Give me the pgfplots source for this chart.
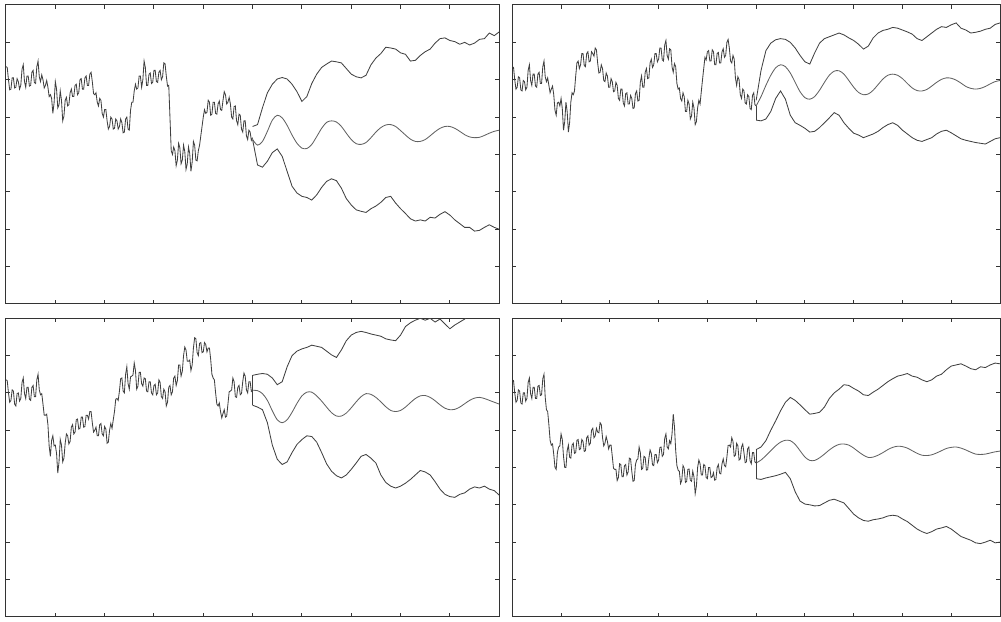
\documentclass[border=0pt]{standalone}
\usepackage{pgfplots}
\pgfplotsset{compat=1.18}
\pgfplotsset{
  panel/.style={
    scale only axis, anchor=south west,
    xmin=0, xmax=10, ymin=0, ymax=8,
    xtick={1,2,3,4,5,6,7,8,9}, ytick={1,2,3,4,5,6,7},
    xticklabels={}, yticklabels={},
    xtick pos=both, ytick pos=both,
    tick align=inside, major tick length=2pt,
    axis line style={black!80, line width=0.5pt},
    every tick/.style={black!80, line width=0.5pt},
    no markers,
  },
  hist/.style={black!75, line width=0.42pt},
  band/.style={black!75, line width=0.42pt},
  mid/.style={black!62, line width=0.42pt, smooth},
  table/H/.style={row sep=\\, header=false, x expr=\coordindex*0.025, y index=0},
  table/F/.style={row sep=\\, header=false, x expr=5+\coordindex*0.1, y index=0},
}
\begin{document}
\begin{tikzpicture}[x=1pt,y=1pt]
\path[use as bounding box] (0,0) rectangle (500.5,310.5);
% ---------------- top left
\begin{axis}[panel, at={(3pt,158.5pt)}, width=246.6pt, height=149.5pt]
\addplot[hist] table[H] {6.35\\6.33\\6.00\\5.73\\5.75\\6.05\\6.05\\5.78\\5.80\\6.03\\5.95\\5.75\\5.85\\6.28\\6.40\\5.95\\5.80\\6.10\\6.10\\5.83\\5.85\\6.20\\6.25\\5.93\\5.90\\6.35\\6.50\\6.08\\5.95\\6.13\\6.00\\5.78\\5.85\\5.98\\5.80\\5.55\\5.60\\5.50\\5.10\\5.38\\5.95\\5.75\\5.25\\5.33\\5.70\\5.45\\4.90\\5.03\\5.45\\5.53\\5.30\\5.33\\5.65\\5.75\\5.55\\5.55\\5.85\\5.88\\5.60\\5.65\\6.00\\6.03\\5.75\\5.75\\6.05\\6.10\\5.85\\5.85\\6.15\\6.20\\5.95\\5.63\\5.60\\5.65\\5.40\\5.30\\5.50\\5.45\\5.10\\5.00\\5.20\\5.20\\4.90\\4.68\\4.75\\5.00\\4.95\\4.68\\4.70\\4.95\\4.90\\4.68\\4.75\\4.95\\4.85\\4.58\\4.60\\4.95\\5.00\\4.68\\4.65\\5.18\\5.40\\5.40\\5.70\\5.88\\5.75\\5.78\\6.10\\6.10\\5.80\\6.00\\6.50\\6.33\\5.85\\5.85\\6.15\\6.18\\5.90\\5.93\\6.25\\6.25\\5.95\\5.93\\6.20\\6.25\\6.00\\6.08\\6.45\\6.43\\6.10\\5.83\\5.85\\4.98\\4.10\\4.00\\4.20\\4.10\\3.70\\3.85\\4.30\\4.18\\3.75\\3.85\\4.25\\4.08\\3.60\\3.75\\4.20\\4.03\\3.55\\3.80\\4.35\\4.25\\3.85\\3.83\\4.10\\4.25\\4.50\\4.75\\5.00\\5.20\\5.10\\5.13\\5.45\\5.40\\5.05\\5.08\\5.40\\5.40\\5.10\\5.08\\5.35\\5.43\\5.20\\5.18\\5.45\\5.68\\5.60\\5.35\\5.40\\5.53\\5.35\\5.00\\4.95\\5.28\\5.30\\4.90\\4.80\\5.08\\5.05\\4.68\\4.60\\4.90\\4.90\\4.50\\4.40\\4.65\\4.60\\4.38\\4.45\\};
\addplot[mid] table[F] {4.40\\4.25\\4.35\\4.62\\4.92\\5.05\\4.98\\4.78\\4.52\\4.30\\4.17\\4.16\\4.27\\4.48\\4.70\\4.86\\4.90\\4.87\\4.75\\4.57\\4.40\\4.29\\4.27\\4.32\\4.45\\4.60\\4.72\\4.79\\4.80\\4.75\\4.64\\4.52\\4.41\\4.35\\4.35\\4.40\\4.50\\4.61\\4.70\\4.75\\4.75\\4.70\\4.62\\4.53\\4.47\\4.45\\4.46\\4.51\\4.57\\4.62\\4.65\\};
\addplot[band] table[F] {4.75\\4.80\\5.25\\5.65\\5.88\\6.02\\6.06\\6.02\\5.88\\5.68\\5.42\\5.55\\5.90\\6.15\\6.33\\6.42\\6.50\\6.48\\6.45\\6.30\\6.15\\6.08\\6.05\\6.12\\6.40\\6.58\\6.70\\6.87\\6.85\\6.82\\6.72\\6.68\\6.50\\6.52\\6.65\\6.75\\6.82\\6.98\\7.10\\7.12\\7.05\\7.02\\6.95\\7.00\\6.93\\6.98\\7.08\\7.10\\7.25\\7.18\\7.28\\};
\addplot[band] table[F] {4.40\\3.72\\3.66\\3.82\\4.05\\4.15\\3.95\\3.55\\3.15\\2.97\\2.88\\2.85\\2.78\\2.92\\3.12\\3.28\\3.35\\3.30\\3.10\\2.82\\2.65\\2.52\\2.48\\2.45\\2.55\\2.62\\2.72\\2.85\\2.88\\2.70\\2.55\\2.42\\2.28\\2.22\\2.25\\2.22\\2.32\\2.30\\2.40\\2.47\\2.38\\2.25\\2.15\\2.05\\2.05\\1.95\\1.97\\2.05\\2.12\\2.05\\2.00\\};
\end{axis}
% ---------------- top right
\begin{axis}[panel, at={(256.15pt,158.5pt)}, width=243.85pt, height=149.5pt]
\addplot[hist] table[H] {6.35\\6.33\\6.00\\5.75\\5.80\\6.08\\6.05\\5.73\\5.70\\5.98\\5.95\\5.73\\5.80\\6.25\\6.40\\5.98\\5.85\\6.15\\6.15\\5.83\\5.80\\6.15\\6.20\\5.90\\5.90\\6.35\\6.50\\6.08\\5.95\\6.05\\5.85\\5.65\\5.75\\5.83\\5.60\\5.18\\5.05\\5.38\\5.40\\5.30\\5.50\\5.23\\4.65\\4.88\\5.40\\5.15\\4.60\\4.85\\5.40\\5.65\\5.60\\5.70\\6.10\\6.45\\6.50\\6.30\\6.40\\6.70\\6.70\\6.38\\6.35\\6.70\\6.75\\6.48\\6.50\\6.75\\6.70\\6.63\\6.85\\6.80\\6.45\\6.18\\6.20\\6.40\\6.30\\5.98\\5.95\\6.18\\6.10\\5.80\\5.80\\6.03\\5.95\\5.68\\5.70\\5.93\\5.85\\5.50\\5.45\\5.75\\5.75\\5.38\\5.30\\5.63\\5.65\\5.35\\5.35\\5.58\\5.50\\5.23\\5.25\\5.63\\5.70\\5.43\\5.45\\5.93\\6.10\\5.80\\5.80\\6.20\\6.30\\6.03\\6.05\\6.45\\6.55\\6.33\\6.40\\6.70\\6.70\\6.48\\6.55\\6.85\\6.85\\6.53\\6.50\\6.93\\7.05\\6.65\\6.55\\6.83\\6.80\\6.35\\6.20\\6.43\\6.35\\5.90\\5.75\\5.78\\5.50\\5.43\\5.65\\5.55\\5.15\\5.15\\5.45\\5.35\\4.95\\5.03\\5.40\\5.25\\4.80\\4.88\\5.25\\5.45\\5.35\\5.68\\6.00\\6.30\\6.60\\6.53\\6.75\\6.78\\6.50\\6.50\\6.80\\6.75\\6.40\\6.40\\6.70\\6.73\\6.45\\6.45\\6.75\\6.83\\6.60\\6.65\\7.00\\7.08\\6.85\\6.50\\6.45\\6.65\\6.55\\6.05\\5.85\\6.08\\6.00\\5.60\\5.50\\5.75\\5.70\\5.38\\5.35\\5.60\\5.55\\5.23\\5.20\\5.58\\5.65\\5.33\\5.30\\};
\addplot[mid] table[F] {5.30\\5.55\\5.85\\6.12\\6.32\\6.40\\6.35\\6.18\\5.93\\5.68\\5.52\\5.48\\5.55\\5.72\\5.93\\6.12\\6.23\\6.24\\6.15\\5.98\\5.80\\5.66\\5.60\\5.62\\5.72\\5.87\\6.02\\6.12\\6.15\\6.12\\6.03\\5.90\\5.78\\5.71\\5.70\\5.74\\5.83\\5.93\\6.01\\6.05\\6.04\\5.99\\5.91\\5.82\\5.77\\5.75\\5.77\\5.82\\5.89\\5.95\\5.98\\};
\addplot[band] table[F] {5.45\\6.25\\6.78\\6.98\\7.07\\7.10\\7.08\\7.00\\6.85\\6.65\\6.48\\6.42\\6.72\\6.98\\7.10\\7.15\\7.20\\7.25\\7.20\\7.12\\7.05\\6.95\\6.82\\6.90\\7.12\\7.25\\7.32\\7.35\\7.40\\7.38\\7.33\\7.28\\7.22\\7.10\\7.05\\7.15\\7.25\\7.35\\7.42\\7.40\\7.47\\7.52\\7.38\\7.33\\7.25\\7.27\\7.30\\7.35\\7.38\\7.48\\7.52\\};
\addplot[band] coordinates {(5,5.30)(5,4.92)};
\addplot[band] table[F] {4.92\\4.90\\4.95\\5.15\\5.50\\5.70\\5.48\\5.05\\4.85\\4.78\\4.70\\4.60\\4.62\\4.72\\4.85\\4.98\\5.12\\5.05\\4.85\\4.70\\4.57\\4.52\\4.45\\4.50\\4.55\\4.62\\4.72\\4.80\\4.85\\4.78\\4.65\\4.55\\4.45\\4.38\\4.35\\4.40\\4.45\\4.55\\4.62\\4.65\\4.58\\4.50\\4.42\\4.38\\4.35\\4.32\\4.30\\4.28\\4.35\\4.42\\4.45\\};
\end{axis}
% ---------------- bottom left
\begin{axis}[panel, at={(3pt,2.15pt)}, width=246.6pt, height=149.2pt]
\addplot[hist] table[H] {6.35\\6.33\\6.00\\5.75\\5.80\\6.08\\6.05\\5.70\\5.65\\5.98\\6.00\\5.78\\5.85\\6.28\\6.40\\5.98\\5.85\\6.15\\6.15\\5.83\\5.80\\6.15\\6.20\\5.90\\5.90\\6.35\\6.50\\6.08\\5.95\\5.98\\5.70\\5.40\\5.40\\5.43\\5.15\\4.58\\4.30\\4.73\\4.85\\4.58\\4.60\\4.38\\3.85\\4.15\\4.75\\4.60\\4.15\\4.25\\4.65\\4.90\\4.85\\4.63\\4.70\\5.08\\5.15\\4.90\\4.95\\5.28\\5.30\\5.03\\5.05\\5.35\\5.35\\5.08\\5.10\\5.40\\5.40\\5.30\\5.50\\5.50\\5.20\\4.95\\5.00\\5.08\\4.85\\4.85\\5.15\\5.18\\4.90\\4.85\\5.10\\5.03\\4.65\\4.68\\5.00\\5.18\\5.05\\5.28\\5.50\\5.83\\5.85\\5.80\\6.05\\6.38\\6.40\\6.05\\6.00\\6.50\\6.70\\6.25\\6.10\\6.43\\6.45\\6.48\\6.80\\6.60\\6.10\\6.18\\6.55\\6.55\\6.25\\6.18\\6.40\\6.38\\6.05\\6.03\\6.30\\6.30\\6.00\\5.95\\6.20\\6.23\\5.95\\6.00\\6.35\\6.28\\5.90\\5.85\\6.10\\6.03\\5.65\\5.75\\6.15\\6.20\\5.95\\6.03\\6.40\\6.45\\6.20\\6.33\\6.75\\6.75\\6.45\\6.58\\7.00\\7.23\\7.15\\6.85\\6.85\\6.88\\6.60\\6.75\\7.20\\7.48\\7.45\\7.08\\7.00\\7.33\\7.35\\7.08\\7.10\\7.35\\7.30\\7.10\\7.20\\7.20\\6.90\\6.50\\6.40\\6.35\\6.00\\5.70\\5.65\\5.73\\5.50\\5.33\\5.45\\5.55\\5.35\\5.38\\5.70\\6.03\\6.05\\6.08\\6.40\\6.30\\5.90\\5.88\\6.15\\6.20\\5.95\\5.98\\6.30\\6.53\\6.45\\6.08\\6.00\\6.30\\6.30\\6.04\\6.07\\};
\addplot[mid] table[F] {6.07\\6.06\\5.98\\5.80\\5.52\\5.28\\5.20\\5.28\\5.48\\5.72\\5.92\\6.02\\6.02\\5.92\\5.78\\5.62\\5.47\\5.38\\5.38\\5.46\\5.60\\5.76\\5.90\\5.98\\5.96\\5.88\\5.76\\5.63\\5.53\\5.50\\5.53\\5.62\\5.74\\5.85\\5.92\\5.93\\5.88\\5.79\\5.68\\5.59\\5.55\\5.56\\5.62\\5.71\\5.80\\5.86\\5.88\\5.85\\5.80\\5.75\\5.70\\};
\addplot[band] coordinates {(5,6.07)(5,6.47)};
\addplot[band] table[F] {6.47\\6.50\\6.52\\6.50\\6.40\\6.22\\6.30\\6.70\\7.00\\7.12\\7.18\\7.22\\7.28\\7.25\\7.22\\7.12\\7.02\\6.95\\7.15\\7.40\\7.55\\7.62\\7.65\\7.62\\7.58\\7.55\\7.52\\7.45\\7.42\\7.40\\7.55\\7.78\\7.88\\7.95\\8.00\\7.95\\8.00\\7.90\\7.98\\7.85\\7.72\\7.82\\7.90\\7.98\\8.10\\8.15\\8.20\\8.18\\8.25\\8.28\\8.30\\};
\addplot[band] coordinates {(5,6.07)(5,5.67)};
\addplot[band] table[F] {5.67\\5.62\\5.55\\5.20\\4.60\\4.22\\4.08\\4.15\\4.40\\4.62\\4.75\\4.85\\4.83\\4.68\\4.40\\4.10\\3.90\\3.78\\3.72\\3.80\\3.95\\4.12\\4.30\\4.35\\4.25\\4.12\\3.80\\3.60\\3.50\\3.45\\3.50\\3.58\\3.68\\3.80\\3.92\\3.88\\3.80\\3.62\\3.42\\3.28\\3.22\\3.20\\3.28\\3.32\\3.42\\3.48\\3.45\\3.50\\3.42\\3.38\\3.26\\};
\end{axis}
% ---------------- bottom right
\begin{axis}[panel, at={(256.15pt,2.15pt)}, width=243.85pt, height=149.2pt]
\addplot[hist] table[H] {6.35\\6.33\\6.00\\5.75\\5.80\\6.08\\6.05\\5.73\\5.70\\6.00\\6.00\\5.78\\5.85\\6.28\\6.40\\5.98\\5.85\\6.15\\6.15\\5.85\\5.85\\6.18\\6.20\\5.93\\5.95\\6.38\\6.50\\5.88\\5.55\\5.50\\5.15\\4.73\\4.60\\4.63\\4.35\\4.00\\3.95\\4.40\\4.55\\4.58\\4.90\\4.75\\4.30\\4.00\\4.00\\4.45\\4.60\\4.28\\4.25\\4.60\\4.65\\4.38\\4.40\\4.73\\4.75\\4.48\\4.50\\4.75\\4.70\\4.43\\4.45\\4.80\\4.85\\4.60\\4.65\\5.00\\5.05\\4.80\\4.85\\5.05\\4.95\\4.93\\5.20\\5.15\\4.80\\4.58\\4.65\\4.83\\4.70\\4.50\\4.60\\4.60\\4.30\\3.98\\3.95\\3.95\\3.65\\3.73\\4.10\\4.08\\3.75\\3.75\\4.05\\4.08\\3.80\\3.88\\4.25\\4.23\\3.90\\3.63\\3.65\\4.08\\4.20\\4.23\\4.55\\4.40\\3.95\\3.98\\4.30\\4.27\\3.93\\3.94\\4.25\\4.47\\4.38\\4.07\\4.05\\4.35\\4.35\\4.13\\4.20\\4.53\\4.55\\4.30\\4.35\\4.78\\4.90\\4.55\\4.50\\4.72\\4.64\\4.90\\5.43\\5.10\\4.46\\4.05\\3.93\\3.90\\3.57\\3.66\\4.05\\3.98\\3.60\\3.63\\3.95\\3.96\\3.66\\3.63\\3.90\\3.75\\3.30\\3.50\\4.00\\4.20\\4.10\\3.80\\3.80\\4.08\\4.05\\3.73\\3.70\\4.00\\4.00\\3.73\\3.75\\3.86\\3.66\\3.68\\4.00\\4.08\\3.85\\3.83\\4.10\\4.23\\4.05\\4.02\\4.28\\4.59\\4.60\\4.55\\4.80\\4.70\\4.30\\4.33\\4.65\\4.58\\4.20\\4.23\\4.55\\4.63\\4.40\\4.13\\4.15\\4.50\\4.55\\4.18\\4.10\\4.40\\4.40\\4.15\\4.12\\};
\addplot[mid] table[F] {4.12\\4.20\\4.32\\4.45\\4.58\\4.68\\4.73\\4.72\\4.62\\4.45\\4.28\\4.19\\4.19\\4.26\\4.36\\4.47\\4.56\\4.62\\4.63\\4.60\\4.52\\4.42\\4.33\\4.27\\4.28\\4.33\\4.40\\4.48\\4.54\\4.57\\4.56\\4.52\\4.45\\4.38\\4.33\\4.32\\4.34\\4.39\\4.45\\4.51\\4.54\\4.55\\4.52\\4.47\\4.41\\4.36\\4.35\\4.36\\4.39\\4.42\\4.44\\};
\addplot[band] coordinates {(5,4.12)(5,4.48)};
\addplot[band] table[F] {4.48\\4.55\\4.72\\5.00\\5.25\\5.52\\5.75\\5.88\\5.80\\5.68\\5.55\\5.43\\5.45\\5.48\\5.62\\5.85\\6.00\\6.10\\6.22\\6.20\\6.12\\6.05\\5.95\\5.93\\6.02\\6.10\\6.20\\6.30\\6.38\\6.45\\6.48\\6.52\\6.45\\6.42\\6.35\\6.30\\6.35\\6.45\\6.50\\6.62\\6.72\\6.75\\6.78\\6.72\\6.65\\6.62\\6.70\\6.68\\6.75\\6.80\\6.78\\};
\addplot[band] coordinates {(5,4.12)(5,3.70)};
\addplot[band] table[F] {3.70\\3.68\\3.72\\3.75\\3.78\\3.82\\3.87\\3.70\\3.35\\3.10\\3.02\\3.00\\2.97\\2.98\\3.05\\3.12\\3.15\\3.10\\3.05\\2.90\\2.75\\2.65\\2.58\\2.56\\2.60\\2.62\\2.65\\2.70\\2.72\\2.70\\2.62\\2.55\\2.45\\2.35\\2.28\\2.23\\2.28\\2.35\\2.38\\2.42\\2.35\\2.25\\2.15\\2.10\\2.05\\1.98\\1.96\\2.00\\2.05\\1.98\\2.00\\};
\end{axis}
\end{tikzpicture}
\end{document}
